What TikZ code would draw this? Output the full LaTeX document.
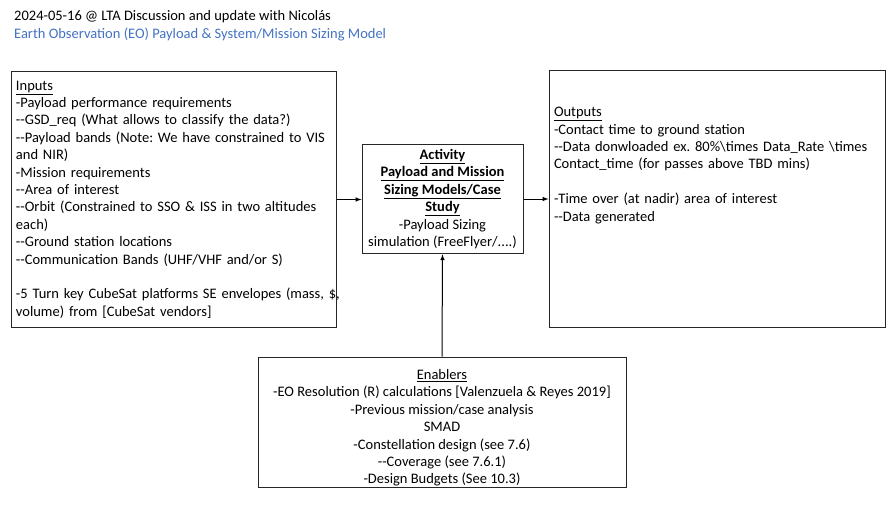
\documentclass[tikz,border=0pt]{standalone}
\usepackage{fontspec}
\setmainfont{Carlito}
\definecolor{titleblue}{HTML}{4472C4}

\begin{document}
\begin{tikzpicture}[x=1pt,y=-1pt,
  txt/.style={font=\fontsize{14.5}{17.4}\selectfont\frenchspacing},
  box/.style={txt, draw=black!85, line width=1pt, inner sep=5pt},
  arr/.style={-latex, line width=1pt}]
  \useasboundingbox (0,0) rectangle (895,511);
  % heading
  \node[txt, anchor=west, inner sep=0pt] (date) at (14,17) {2024-05-16 @ LTA Discussion and update with Nicolás};
  \node[txt, anchor=west, inner sep=0pt, text=titleblue] (topic) at (14,34) {Earth Observation (EO) Payload \& System/Mission Sizing Model};
  % boxes
  \node[box, minimum width=325pt, minimum height=255pt, text width=315pt, align=left] (inp) at (173.5,199.5)
    {\underline{Inputs}\\
     -Payload performance requirements\\
     -{}-GSD\_req (What allows to classify the data?)\\
     -{}-Payload bands (Note: We have constrained to VIS\\
     and NIR)\\
     -Mission requirements\\
     -{}-Area of interest\\
     -{}-Orbit (Constrained to SSO \& ISS in two altitudes\\
     each)\\
     -{}-Ground station locations\\
     -{}-Communication Bands (UHF/VHF and/or S)\\
     ~\\
     \mbox{-5 Turn key CubeSat platforms SE envelopes (mass, \$,}\\
     volume) from [CubeSat vendors]};
  \node[box, minimum width=161pt, minimum height=107pt, align=center] (act) at (442.5,199)
    {\underline{\textbf{Activity}}\\
     \underline{\textbf{Payload and Mission}}\\
     \underline{\textbf{Sizing Models/Case}}\\
     \underline{\textbf{Study}}\\
     -Payload Sizing\\
     simulation (FreeFlyer/....)};
  \node[box, minimum width=336pt, minimum height=256pt, text width=326pt, align=left] (out) at (717,199)
    {\underline{Outputs}\\
     -Contact time to ground station\\
     -{}-Data donwloaded ex. 80\%\textbackslash times Data\_Rate \textbackslash times\\
     Contact\_time (for passes above TBD mins)\\
     ~\\
     -Time over (at nadir) area of interest\\
     -{}-Data generated\\
     ~\\ ~\\ ~\\ ~};
  \node[box, inner ysep=0pt, minimum width=368pt, minimum height=130pt, align=center] (enab) at (442,422)
    {\rule{0pt}{22pt}\underline{Enablers}\\
     -EO Resolution (R) calculations [Valenzuela \& Reyes 2019]\\
     -Previous mission/case analysis\\
     SMAD\\
     -Constellation design (see 7.6)\\
     -{}-Coverage (see 7.6.1)\\
     -Design Budgets (See 10.3)};
  % connectors
  \draw[arr] (inp.east) -- (inp.east -| act.west);
  \draw[arr] (act.east |- out.west) -- (out.west);
  \draw[arr] (enab.north) -- (act.south);
\end{tikzpicture}
\end{document}
